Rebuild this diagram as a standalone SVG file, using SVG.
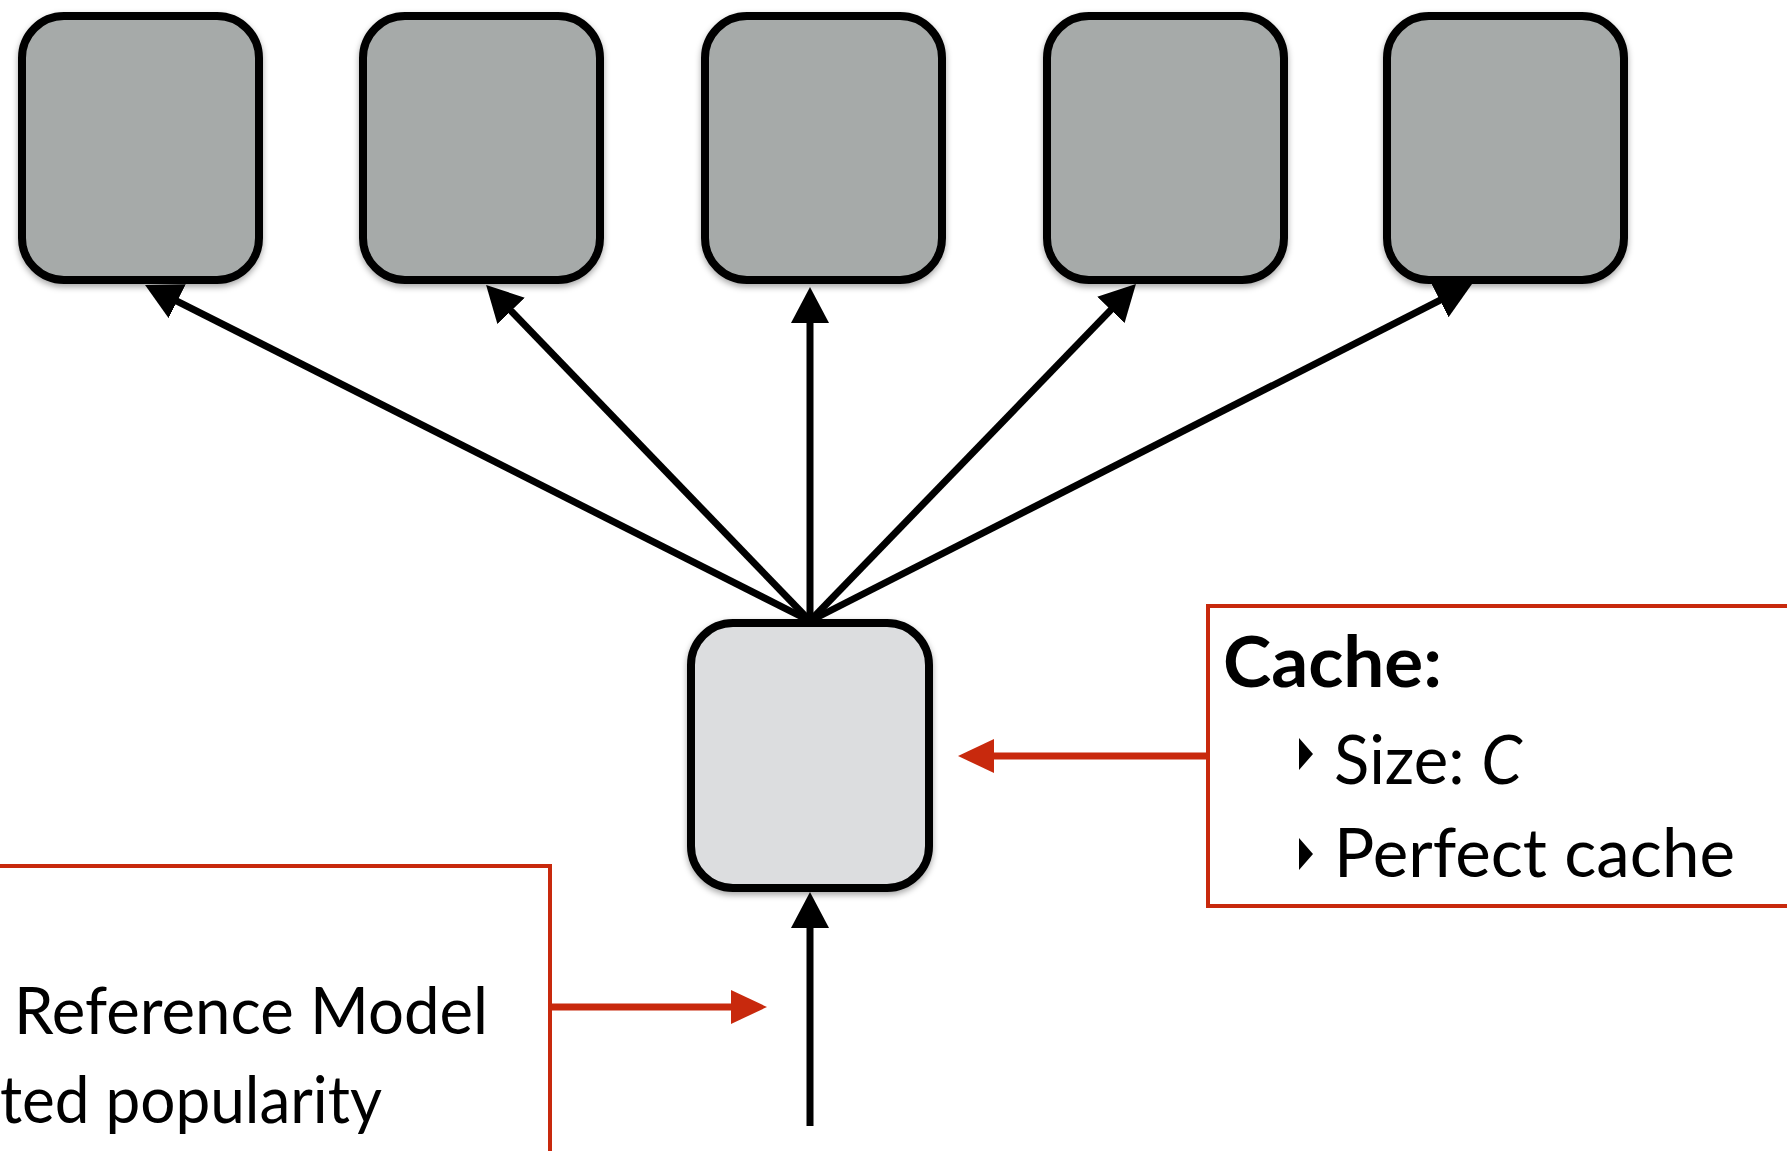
<svg xmlns="http://www.w3.org/2000/svg" width="1787" height="1151" viewBox="0 0 1787 1151">
  <style>
    .node { stroke: #000; stroke-width: 8; filter: url(#shadow); }
    .origin { fill: #a6aaa9; }
    .cache { fill: #dcdddf; }
    .link { stroke: #000; stroke-width: 7; fill: none; marker-end: url(#headBlack); }
    .note { fill: none; stroke: #c8290d; stroke-width: 4; }
    .pointer { stroke: #c8290d; stroke-width: 7; fill: none; marker-end: url(#headRed); }
    .label { font-family: Lato, "Open Sans", "Liberation Sans", sans-serif; fill: #000; }
  </style>
  <defs>
    <filter id="shadow" x="-10%" y="-10%" width="120%" height="125%">
      <feDropShadow dx="0" dy="3" stdDeviation="3" flood-color="#000" flood-opacity="0.35"/>
    </filter>
    <marker id="headBlack" viewBox="0 0 36 38" refX="2" refY="19" markerWidth="36" markerHeight="38" markerUnits="userSpaceOnUse" orient="auto">
      <path d="M0,0 L36,19 L0,38 z" fill="#000"/>
    </marker>
    <marker id="headRed" viewBox="0 0 36 36" refX="2" refY="18" markerWidth="36" markerHeight="36" markerUnits="userSpaceOnUse" orient="auto">
      <path d="M0,1 L36,18 L0,35 z" fill="#c8290d"/>
    </marker>
  </defs>

  <!-- origin servers -->
  <g id="origin-1"><rect class="node origin" x="22" y="16" width="237" height="264" rx="42"/></g>
  <g id="origin-2"><rect class="node origin" x="363" y="16" width="237" height="264" rx="42"/></g>
  <g id="origin-3"><rect class="node origin" x="705" y="16" width="237" height="264" rx="42"/></g>
  <g id="origin-4"><rect class="node origin" x="1047" y="16" width="237" height="264" rx="42"/></g>
  <g id="origin-5"><rect class="node origin" x="1387" y="16" width="237" height="264" rx="42"/></g>

  <!-- cache node -->
  <g id="cache-node"><rect class="node cache" x="691" y="623" width="238" height="265" rx="42"/></g>

  <!-- connectors -->
  <g id="connectors">
    <line class="link" x1="810" y1="621" x2="175.4" y2="300.3"/>
    <line class="link" x1="810" y1="621" x2="509.7" y2="309.4"/>
    <line class="link" x1="810" y1="621" x2="810" y2="321"/>
    <line class="link" x1="810" y1="621" x2="1112.3" y2="308.4"/>
    <line class="link" x1="810" y1="621" x2="1441.7" y2="299.4"/>
    <line class="link" x1="810" y1="1126" x2="810" y2="926"/>
    <line class="pointer" x1="1208" y1="756" x2="992" y2="756"/>
    <line class="pointer" x1="550" y1="1007" x2="733" y2="1007"/>
  </g>

  <!-- cache description -->
  <g id="cache-note">
    <rect class="note" x="1208" y="606" width="620" height="300"/>
    <text class="label" x="1223" y="687" font-size="70" font-weight="bold" textLength="219" lengthAdjust="spacingAndGlyphs">Cache:</text>
    <path d="M1299,738 L1313,754 L1299,770 z" fill="#000"/>
    <text class="label" x="1334" y="784" font-size="68" textLength="188" lengthAdjust="spacingAndGlyphs">Size: <tspan font-style="italic">C</tspan></text>
    <path d="M1299,838 L1313,854 L1299,870 z" fill="#000"/>
    <text class="label" x="1334" y="877" font-size="68" textLength="401" lengthAdjust="spacingAndGlyphs">Perfect cache</text>
  </g>

  <!-- request model description -->
  <g id="request-note">
    <rect class="note" x="-10" y="866" width="560" height="300"/>
    <text class="label" x="14" y="1034" font-size="66" textLength="474" lengthAdjust="spacingAndGlyphs">Reference Model</text>
    <text class="label" x="0" y="1123" font-size="66" textLength="382" lengthAdjust="spacingAndGlyphs">ted popularity</text>
  </g>
</svg>
